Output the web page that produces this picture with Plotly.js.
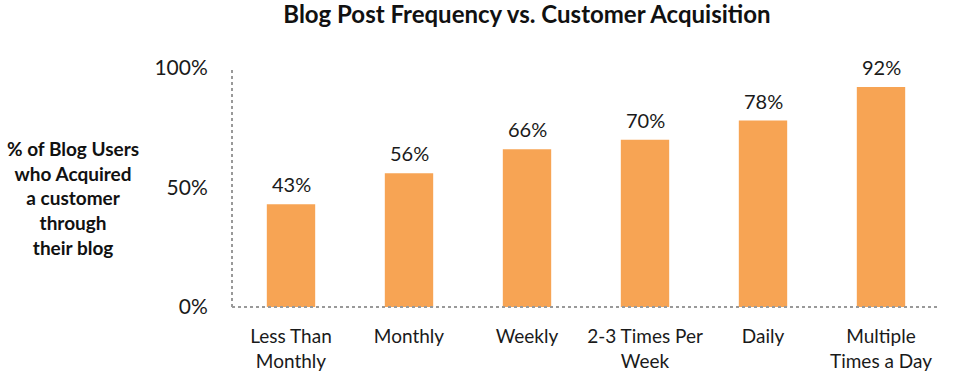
<!DOCTYPE html>
<html>
<head>
<meta charset="utf-8">
<script src="https://cdn.plot.ly/plotly-3.0.1.min.js"></script>
<style>html,body{margin:0;padding:0;background:#fff;}#chart{width:974px;height:373px;}</style>
</head>
<body>
<div id="chart"></div>
<script>
var categories = ["Less Than<br>Monthly", "Monthly", "Weekly", "2-3 Times Per<br>Week", "Daily", "Multiple<br>Times a Day"];
var values = [0.43, 0.56, 0.66, 0.70, 0.78, 0.92];
var labels = ["43%", "56%", "66%", "70%", "78%", "92%"];
var tickVals = [0, 0.5, 1];
var tickText = ["0%", "50%", "100%"];

var FONT = "Lato, 'Open Sans', sans-serif";

var trace = {
  type: "bar",
  x: categories,
  y: values,
  cliponaxis: false,
  marker: {color: "#F7A454"},
  width: 0.41,
  hoverinfo: "none"
};

var valueAnnotations = categories.map(function (c, i) {
  return {x: c, y: values[i], xref: "x", yref: "y", text: labels[i], showarrow: false,
          yanchor: "middle", yshift: 20, font: {family: FONT, size: 20, color: "#1a1a1a"}};
});

var layout = {
  width: 974, height: 373,
  margin: {l: 232, r: 34, t: 68, b: 66},
  paper_bgcolor: "#fff", plot_bgcolor: "#fff",
  showlegend: false,
  title: {text: "<b>Blog Post Frequency vs. Customer Acquisition</b>", x: 0.541, xanchor: "center", y: 0.96, yanchor: "middle", font: {family: FONT, size: 24, color: "#111"}},
  xaxis: {
    type: "category", range: [-0.5, 5.5], showline: false, showgrid: false, zeroline: false,
    ticks: "outside", ticklen: 12, tickcolor: "rgba(0,0,0,0)",
    tickfont: {family: FONT, size: 19, color: "#1a1a1a"}
  },
  yaxis: {
    range: [0, 1], tickvals: tickVals, ticktext: tickText, showline: false, showgrid: false, zeroline: false,
    ticks: "outside", ticklen: 19, tickcolor: "rgba(0,0,0,0)",
    tickfont: {family: FONT, size: 21, color: "#1a1a1a"}
  },
  shapes: [
    {type: "line", xref: "paper", yref: "paper", x0: 0, x1: 1, y0: 0, y1: 0, line: {color: "#999", width: 2, dash: "dot"}},
    {type: "line", xref: "paper", yref: "paper", x0: 0, x1: 0, y0: 0, y1: 1, line: {color: "#999", width: 2, dash: "dot"}}
  ],
  annotations: [
    {text: "<b>% of Blog Users<br>who Acquired<br>a customer<br>through<br>their blog</b>", xref: "paper", yref: "paper",
     x: -0.225, xanchor: "center", y: 0.455, yanchor: "middle", showarrow: false, align: "center",
     font: {family: FONT, size: 19, color: "#111"}}
  ].concat(valueAnnotations)
};

Plotly.newPlot("chart", [trace], layout, {displayModeBar: false, staticPlot: true});
</script>
</body>
</html>
